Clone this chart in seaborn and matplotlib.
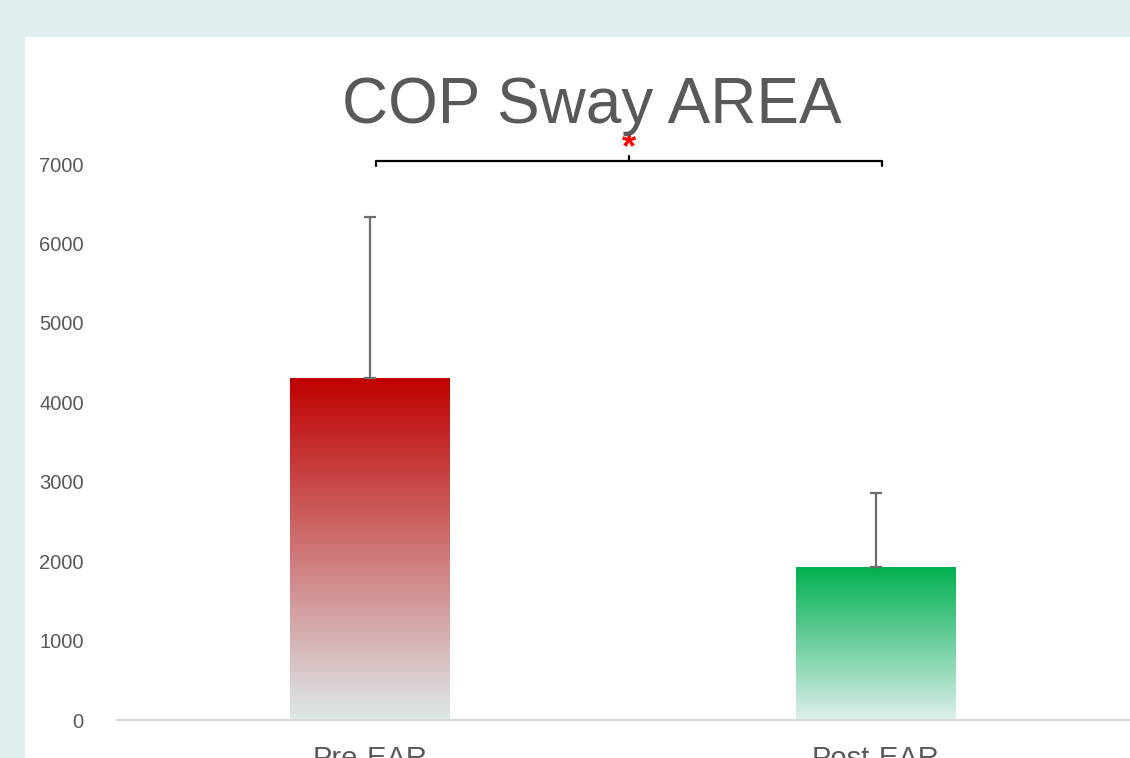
import numpy as np
import matplotlib
matplotlib.use('Agg')
import matplotlib.pyplot as plt
import seaborn as sns
from matplotlib.colors import LinearSegmentedColormap
from matplotlib.patches import Rectangle

# -- Data ----------------------------------------------------
groups     = ['Pre-EAR', 'Post-EAR']
means      = [4300, 1930]
sd_upper   = [2030, 930]
top_colors = ['#C00000', '#00B050']
bot_colors = ['#DDE9EA', '#DDEFEC']
sig_pair   = (0, 1)
sig_label  = '*'
title      = 'COP Sway AREA'
yticks     = [0, 1000, 2000, 3000, 4000, 5000, 6000, 7000]

# -- Style ---------------------------------------------------
sns.set_style('white')
plt.rcParams['font.family'] = ['Liberation Sans', 'DejaVu Sans']
GREY = '#595959'

fig = plt.figure(figsize=(11.3, 7.58), dpi=100, facecolor='#DFEFEF')
fig.patches.append(Rectangle((25 / 1130, 0), 1, 1 - 37 / 758,
                             transform=fig.transFigure, facecolor='white',
                             edgecolor='none', zorder=-5))
ax = fig.add_axes([117 / 1130, 38 / 758, 1012 / 1130, 556 / 758])
ax.set_facecolor('none')
ax.set_zorder(2)

sns.barplot(x=groups, y=means, hue=groups, palette=top_colors,
            width=0.316, legend=False, ax=ax)

# gradient fill inside each bar
grad = np.linspace(0, 1, 256).reshape(-1, 1)
for patch, c_top, c_bot in zip(ax.patches, top_colors, bot_colors):
    x0, y0 = patch.get_x(), patch.get_y()
    w, h = patch.get_width(), patch.get_height()
    cmap = LinearSegmentedColormap.from_list('g', [c_bot, c_top])
    im = ax.imshow(grad, extent=[x0, x0 + w, y0, y0 + h], origin='lower',
                   cmap=cmap, aspect='auto', zorder=2)
    im.set_clip_path(patch)
    patch.set_facecolor('none')
    patch.set_edgecolor('none')

# upper-only error bars
xpos = np.arange(len(groups))
ax.errorbar(xpos, means, yerr=[np.zeros(len(means)), sd_upper], fmt='none',
            ecolor='#6E6E6E', elinewidth=1.6, capsize=4.5, capthick=1.6,
            zorder=3)

ax.set_xlim(-0.5, len(groups) - 0.5)
ax.set_ylim(0, 7000)
ax.set_yticks(yticks)
ax.set_xlabel('')
ax.set_ylabel('')
ax.tick_params(axis='y', length=0, pad=24, labelsize=14.5, labelcolor=GREY)
ax.tick_params(axis='x', length=0, pad=18, labelsize=21, labelcolor=GREY)
for s in ['left', 'top', 'right']:
    ax.spines[s].set_visible(False)
ax.spines['bottom'].set_color('#D9D9D9')
ax.spines['bottom'].set_linewidth(1.5)

# significance bracket
xa, xb = xpos[sig_pair[0]] + 0.011, xpos[sig_pair[1]] + 0.011
yb = 7040
xm = (xa + xb) / 2
ax.plot([xa, xa, xb, xb], [6975, yb, yb, 6975], color='black', lw=1.6,
        clip_on=False, solid_joinstyle='round')
ax.plot([xm, xm], [yb, 7105], color='black', lw=1.6, clip_on=False)
ax.text(xm, 7070, sig_label, color='red', fontsize=26, fontweight='bold',
        ha='center', va='baseline', clip_on=False)

fig.text(592 / 1130, 1 - 123 / 758, title, ha='center', va='baseline',
         fontsize=46, color=GREY)

plt.savefig('out.png', dpi=100, facecolor=fig.get_facecolor())
